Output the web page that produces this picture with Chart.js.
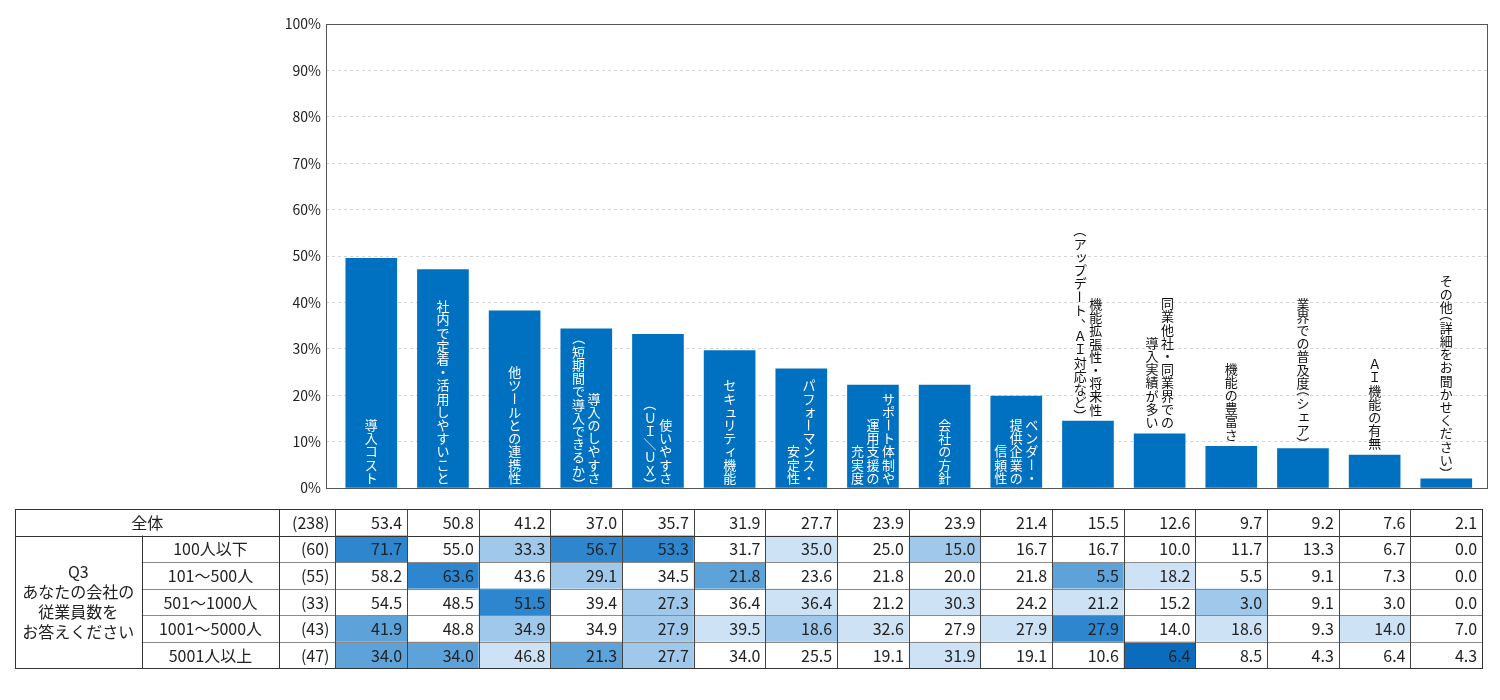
<!DOCTYPE html>
<html lang="ja">
<head>
<meta charset="utf-8">
<script src="https://cdn.jsdelivr.net/npm/chart.js@4.4.1/dist/chart.umd.min.js"></script>
<style>
  html, body { margin: 0; padding: 0; background: #fff; }
  canvas { display: block; }
</style>
</head>
<body>
<canvas id="chart" width="1500" height="700"></canvas>
<script>
// bar labels, one entry per column of vertical text (first = rightmost)
const categories = [
  ['導入コスト'],
  ['社内で定着・活用しやすいこと'],
  ['他ツールとの連携性'],
  ['導入のしやすさ', '（短期間で導入できるか）'],
  ['使いやすさ', '（ＵＩ／ＵＸ）'],
  ['セキュリティ機能'],
  ['パフォーマンス・', '安定性'],
  ['サポート体制や', '運用支援の', '充実度'],
  ['会社の方針'],
  ['ベンダー・', '提供企業の', '信頼性'],
  ['機能拡張性・将来性', '（アップデート、ＡＩ対応など）'],
  ['同業他社・同業界での', '導入実績が多い'],
  ['機能の豊富さ'],
  ['業界での普及度（シェア）'],
  ['ＡＩ機能の有無'],
  ['その他（詳細をお聞かせください）']
];

// bar heights (%)
const barValues = [49.5, 47.1, 38.2, 34.3, 33.1, 29.6, 25.7, 22.2, 22.2, 19.8, 14.4, 11.7, 9.0, 8.5, 7.1, 2.0];

const yTicks = [0, 10, 20, 30, 40, 50, 60, 70, 80, 90, 100];

// table below the chart
const totalLabel = '全体';
const totalN = 238;
const totalRow = [53.4, 50.8, 41.2, 37.0, 35.7, 31.9, 27.7, 23.9, 23.9, 21.4, 15.5, 12.6, 9.7, 9.2, 7.6, 2.1];

const groupTitle = ['Q3', 'あなたの会社の', '従業員数を', 'お答えください'];
const groups = ['100人以下', '101～500人', '501～1000人', '1001～5000人', '5001人以上'];
const groupN = [60, 55, 33, 43, 47];
const groupRows = [
  [71.7, 55.0, 33.3, 56.7, 53.3, 31.7, 35.0, 25.0, 15.0, 16.7, 16.7, 10.0, 11.7, 13.3, 6.7, 0.0],
  [58.2, 63.6, 43.6, 29.1, 34.5, 21.8, 23.6, 21.8, 20.0, 21.8, 5.5, 18.2, 5.5, 9.1, 7.3, 0.0],
  [54.5, 48.5, 51.5, 39.4, 27.3, 36.4, 36.4, 21.2, 30.3, 24.2, 21.2, 15.2, 3.0, 9.1, 3.0, 0.0],
  [41.9, 48.8, 34.9, 34.9, 27.9, 39.5, 18.6, 32.6, 27.9, 27.9, 27.9, 14.0, 18.6, 9.3, 14.0, 7.0],
  [34.0, 34.0, 46.8, 21.3, 27.7, 34.0, 25.5, 19.1, 31.9, 19.1, 10.6, 6.4, 8.5, 4.3, 6.4, 4.3]
];
// cell shading level as seen in the table (0 = none)
const groupShade = [
  [4, 0, 2, 4, 4, 0, 1, 0, 2, 0, 0, 0, 0, 0, 0, 0],
  [0, 4, 0, 2, 0, 3, 0, 0, 0, 0, 3, 1, 0, 0, 0, 0],
  [0, 0, 4, 0, 2, 0, 1, 0, 1, 0, 1, 0, 2, 0, 0, 0],
  [3, 0, 2, 0, 2, 1, 2, 1, 0, 1, 4, 0, 1, 0, 1, 0],
  [3, 3, 1, 3, 2, 0, 0, 0, 1, 0, 0, 5, 0, 0, 0, 0]
];

const FONT = '"Noto Sans CJK JP", "Noto Sans", sans-serif';
const BAR_COLOR = '#0070c0';
const shadeColors = ['#ffffff', '#cde2f4', '#9fc8ea', '#5ea2da', '#2e86cf', '#0b6cbd'];

const ROTATE = 'ー－（）／～(){}「」';
const NARROW = '（）(){}「」';
const SMALL = 'ァィゥェォッャュョぁぃぅぇぉっゃゅょ';

// frame round the plot area
const framePlugin = {
  id: 'frame',
  beforeDatasetsDraw(chart) {
    const { ctx, chartArea: a } = chart;
    ctx.save();
    ctx.strokeStyle = '#555';
    ctx.lineWidth = 1;
    ctx.strokeRect(Math.round(a.left) + 0.5, Math.round(a.top) + 0.5,
      Math.round(a.right - a.left), Math.round(a.bottom - a.top));
    ctx.restore();
  }
};

// vertical Japanese labels on / above the bars
const labelPlugin = {
  id: 'vlabels',
  afterDatasetsDraw(chart) {
    const ctx = chart.ctx;
    const meta = chart.getDatasetMeta(0);
    const fs = 13, pitch = 13.2, gap = 15.5;
    const step = ch => NARROW.includes(ch) ? pitch * 0.55 : pitch;
    const colLen = line => [...line].reduce((s, ch) => s + step(ch), 0);
    ctx.save();
    ctx.font = fs + 'px ' + FONT;
    ctx.textAlign = 'center';
    ctx.textBaseline = 'middle';
    meta.data.forEach((bar, i) => {
      const cols = categories[i];
      const need = Math.max(...cols.map(colLen));
      const barH = bar.base - bar.y;
      const inside = need + 6 <= barH;
      const bottom = inside ? bar.base - 3 : bar.y - 5;
      ctx.fillStyle = inside ? '#fff' : '#111';
      cols.forEach((line, j) => {
        const chars = [...line];
        const cx = bar.x + ((cols.length - 1) / 2 - j) * gap;
        let y = bottom - colLen(line);
        chars.forEach(ch => {
          const h = step(ch);
          const cy = y + h / 2;
          y += h;
          ctx.save();
          ctx.translate(cx, cy);
          if (ROTATE.includes(ch)) {
            ctx.rotate(Math.PI / 2);
            if (NARROW.includes(ch)) ctx.translate(ch === '（' || ch === '(' ? -fs * 0.25 : fs * 0.25, 0);
          } else if (ch === '、' || ch === '。') {
            ctx.translate(fs * 0.55, -fs * 0.55);
          } else if (SMALL.includes(ch)) {
            ctx.translate(fs * 0.1, -fs * 0.1);
          }
          ctx.fillText(ch, 0, 0);
          ctx.restore();
        });
      });
    });
    ctx.restore();
  }
};

// data table under the chart, columns follow the x scale
const tablePlugin = {
  id: 'table',
  afterDraw(chart) {
    const ctx = chart.ctx;
    const xs = chart.scales.x;
    const top = 509, rowH = 26.55, nRows = 6;
    const colA = 15, colB = 141.7, colN = 279.3;
    const edges = [];
    for (let i = 0; i <= totalRow.length; i++) edges.push(xs.getPixelForValue(i - 0.5));
    const left = colA, right = edges[edges.length - 1];
    const bottom = top + rowH * nRows;
    const rowY = r => top + r * rowH;

    ctx.save();
    // shading
    groupRows.forEach((row, r) => {
      row.forEach((v, c) => {
        const lvl = groupShade[r][c];
        if (!lvl) return;
        ctx.fillStyle = shadeColors[lvl];
        ctx.fillRect(edges[c], rowY(r + 1), edges[c + 1] - edges[c], rowH);
      });
    });

    const hline = (x1, x2, y, color) => {
      ctx.strokeStyle = color;
      ctx.beginPath();
      ctx.moveTo(x1, Math.round(y) + 0.5);
      ctx.lineTo(x2, Math.round(y) + 0.5);
      ctx.stroke();
    };
    const vline = (x, y1, y2, color) => {
      ctx.strokeStyle = color;
      ctx.beginPath();
      ctx.moveTo(Math.round(x) + 0.5, y1);
      ctx.lineTo(Math.round(x) + 0.5, y2);
      ctx.stroke();
    };
    ctx.lineWidth = 1;
    for (let r = 2; r < nRows; r++) hline(colB, right, rowY(r), '#8a8a8a');
    hline(left, right, rowY(1), '#333');
    vline(colB, rowY(1), bottom, '#333');
    vline(colN, top, bottom, '#333');
    edges.forEach(x => vline(x, top, bottom, '#444'));
    ctx.strokeStyle = '#333';
    ctx.strokeRect(Math.round(left) + 0.5, Math.round(top) + 0.5,
      Math.round(right - left), Math.round(bottom - top));

    // text
    ctx.fillStyle = '#222';
    ctx.font = '16px ' + FONT;
    ctx.textBaseline = 'middle';
    const cy = r => rowY(r) + rowH / 2 + 0.5;
    ctx.textAlign = 'center';
    ctx.fillText(totalLabel, (colA + colN) / 2, cy(0));
    groups.forEach((g, r) => ctx.fillText(g, (colB + colN) / 2, cy(r + 1)));
    const midA = (rowY(1) + bottom) / 2;
    groupTitle.forEach((t, k) => {
      ctx.fillText(t, (colA + colB) / 2, midA + (k - (groupTitle.length - 1) / 2) * 20);
    });
    ctx.textAlign = 'right';
    ctx.fillText('(' + totalN + ')', edges[0] - 6, cy(0));
    groupN.forEach((n, r) => ctx.fillText('(' + n + ')', edges[0] - 6, cy(r + 1)));
    totalRow.forEach((v, c) => ctx.fillText(v.toFixed(1), edges[c + 1] - 5, cy(0)));
    groupRows.forEach((row, r) => {
      row.forEach((v, c) => ctx.fillText(v.toFixed(1), edges[c + 1] - 5, cy(r + 1)));
    });
    ctx.restore();
  }
};

new Chart(document.getElementById('chart'), {
  type: 'bar',
  data: {
    datasets: [{
      data: barValues.map((v, i) => ({ x: i, y: v })),
      backgroundColor: BAR_COLOR,
      barThickness: 51
    }]
  },
  options: {
    responsive: false,
    animation: false,
    devicePixelRatio: 1,
    layout: { padding: { left: 0, top: 24, right: 13, bottom: 212 } },
    plugins: {
      legend: { display: false },
      tooltip: { enabled: false }
    },
    scales: {
      x: {
        type: 'linear',
        min: -0.632,
        max: 15.568,
        offset: false,
        display: false,
        grid: { offset: false },
        ticks: { includeBounds: false, stepSize: 1 }
      },
      y: {
        min: 0,
        max: 100,
        afterBuildTicks: s => { s.ticks = yTicks.map(v => ({ value: v })); },
        afterFit: s => { s.width = 326; },
        ticks: {
          callback: v => v + '%',
          padding: 5,
          color: '#222',
          font: { size: 14, family: FONT }
        },
        grid: {
          drawTicks: false,
          lineWidth: 1,
          color: c => (c.tick && (c.tick.value === 0 || c.tick.value === 100)) ? 'rgba(0,0,0,0)' : '#d6d6d6'
        },
        border: { display: false, dash: [3, 3] }
      }
    }
  },
  plugins: [framePlugin, labelPlugin, tablePlugin]
});
</script>
</body>
</html>
